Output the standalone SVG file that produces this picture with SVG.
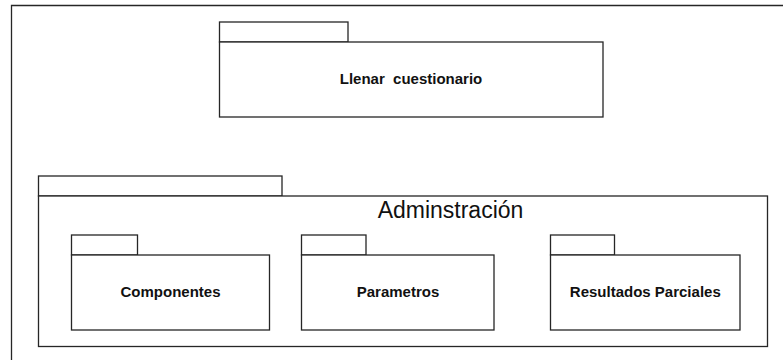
<svg xmlns="http://www.w3.org/2000/svg" width="783" height="360" viewBox="0 0 783 360">
<style>
.b{fill:#fff;stroke:#262626;stroke-width:1.3}
.f{fill:none;stroke:#262626;stroke-width:1.3}
.t{font-family:"Liberation Sans",Arial,sans-serif;font-weight:bold;font-size:15px;fill:#111;text-anchor:middle}
.h{font-family:"Liberation Sans",Arial,sans-serif;font-size:23px;fill:#111;text-anchor:middle}
</style>
<rect width="783" height="360" fill="#fff"/>
<g id="frame"><path class="f" d="M11.5,360 V5.5 H783"/></g>
<g id="llenar">
<rect class="b" x="219.5" y="22" width="128.5" height="20"/>
<rect class="b" x="219.5" y="42" width="383.5" height="75"/>
<text class="t" x="411" y="83.5" xml:space="preserve">Llenar  cuestionario</text>
</g>
<g id="admin">
<rect class="b" x="38.5" y="176" width="243.5" height="20"/>
<rect class="b" x="38.5" y="196" width="729" height="150.5"/>
<text class="h" x="450.5" y="217.5">Adminstración</text>
</g>
<g id="componentes">
<rect class="b" x="71.5" y="235" width="66" height="20"/>
<rect class="b" x="71.5" y="255" width="198" height="75"/>
<text class="t" x="170.5" y="296.5">Componentes</text>
</g>
<g id="parametros">
<rect class="b" x="301.5" y="235" width="64.5" height="20"/>
<rect class="b" x="301.5" y="255" width="192.5" height="75"/>
<text class="t" x="398" y="296.5">Parametros</text>
</g>
<g id="resultados">
<rect class="b" x="550.5" y="235" width="64" height="20"/>
<rect class="b" x="550.5" y="255" width="189.5" height="75"/>
<text class="t" x="645.3" y="296.5">Resultados Parciales</text>
</g>
<g id="connectors"></g>
</svg>
